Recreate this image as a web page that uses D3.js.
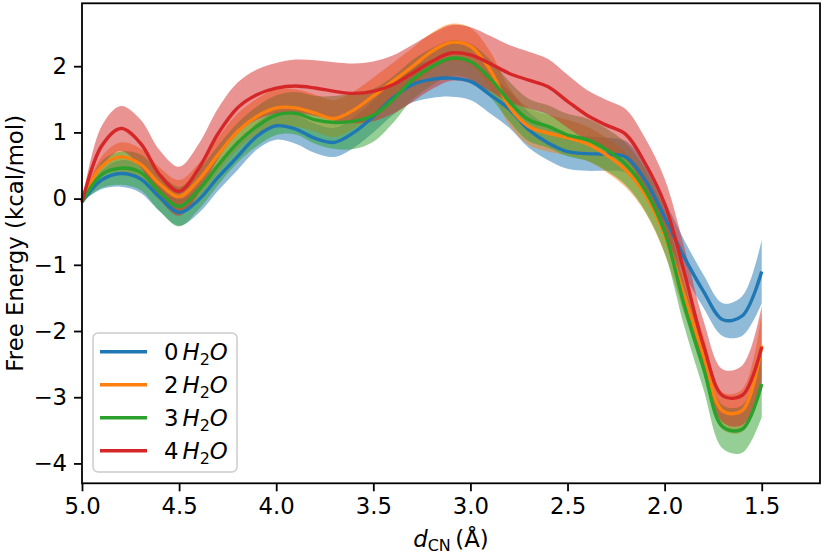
<!DOCTYPE html>
<meta charset="utf-8">
<style>

body {
  margin: 0;
  background: #fff;
}

text {
  font-family: "DejaVu Sans", sans-serif;
  fill: #000;
}

.band {
  fill-opacity: 0.5;
  stroke: none;
}

.line {
  fill: none;
  stroke-width: 3.4px;
  stroke-linejoin: round;
}

</style>
<svg width=825 height=557></svg>
<script src='https://d3js.org/d3.v7.min.js'></script>
<script>

const width = 825;
const height = 557;
const plotLeft = 82, plotRight = 820, plotTop = 3.3, plotBottom = 483.3;
const fontsize = 22.8;

// distance d_CN (Angstrom), sampled every 0.1
const distances = [5.0, 4.9, 4.8, 4.7, 4.6, 4.5, 4.4, 4.3, 4.2, 4.1, 4.0, 3.9, 3.8, 3.7, 3.6, 3.5, 3.4, 3.3,
                   3.2, 3.1, 3.0, 2.9, 2.8, 2.7, 2.6, 2.5, 2.4, 2.3, 2.2, 2.1, 2.0, 1.9, 1.8, 1.7, 1.6, 1.5];

// free energy (kcal/mol) and half width of the shaded band, one pair per water count
const energy0 = [-0.05, 0.28, 0.38, 0.30, 0.02, -0.21, -0.02, 0.32, 0.63, 0.94, 1.10, 1.05, 0.91, 0.85, 1.00, 1.24, 1.52, 1.72,
                 1.80, 1.82, 1.77, 1.57, 1.35, 1.04, 0.84, 0.71, 0.68, 0.67, 0.63, 0.28, -0.28, -0.88, -1.40, -1.83, -1.77, -1.10];
const spread0 = [0, 0.14, 0.20, 0.21, 0.21, 0.20, 0.20, 0.20, 0.20, 0.20, 0.21, 0.22, 0.22, 0.22, 0.23, 0.24, 0.26, 0.27,
                 0.28, 0.28, 0.28, 0.28, 0.28, 0.27, 0.26, 0.26, 0.26, 0.25, 0.24, 0.24, 0.25, 0.26, 0.25, 0.25, 0.30, 0.48];

const energy2 = [-0.05, 0.48, 0.63, 0.52, 0.22, 0.03, 0.28, 0.66, 1.01, 1.24, 1.37, 1.37, 1.29, 1.21, 1.34, 1.55, 1.77, 1.99,
                 2.22, 2.36, 2.30, 1.95, 1.39, 1.09, 0.99, 0.92, 0.83, 0.66, 0.43, 0.06, -0.55, -1.45, -2.36, -3.21, -3.20, -2.22];
const spread2 = [0, 0.15, 0.22, 0.24, 0.25, 0.25, 0.25, 0.26, 0.27, 0.27, 0.28, 0.28, 0.28, 0.28, 0.28, 0.28, 0.28, 0.28,
                 0.28, 0.28, 0.28, 0.28, 0.28, 0.28, 0.28, 0.27, 0.26, 0.26, 0.26, 0.27, 0.28, 0.28, 0.28, 0.28, 0.32, 0.50];

const energy3 = [-0.05, 0.36, 0.46, 0.40, 0.10, -0.12, 0.13, 0.50, 0.84, 1.09, 1.26, 1.29, 1.19, 1.15, 1.17, 1.26, 1.49, 1.79,
                 1.99, 2.12, 2.07, 1.82, 1.47, 1.19, 1.09, 0.96, 0.89, 0.74, 0.52, 0.13, -0.50, -1.60, -2.56, -3.45, -3.48, -2.80];
const spread3 = [0, 0.20, 0.25, 0.27, 0.29, 0.30, 0.30, 0.30, 0.30, 0.30, 0.30, 0.32, 0.36, 0.40, 0.42, 0.40, 0.35, 0.30,
                 0.28, 0.27, 0.27, 0.28, 0.30, 0.32, 0.32, 0.32, 0.32, 0.32, 0.32, 0.32, 0.32, 0.32, 0.32, 0.33, 0.36, 0.50];

const energy4 = [-0.05, 0.79, 1.06, 0.84, 0.36, 0.11, 0.45, 0.98, 1.37, 1.57, 1.67, 1.70, 1.67, 1.62, 1.59, 1.62, 1.72, 1.89,
                 2.07, 2.20, 2.17, 2.04, 1.89, 1.79, 1.69, 1.47, 1.26, 1.11, 0.97, 0.53, -0.08, -1.10, -2.22, -2.98, -2.97, -2.24];
const spread4 = [0, 0.30, 0.34, 0.36, 0.37, 0.37, 0.37, 0.38, 0.38, 0.38, 0.38, 0.40, 0.42, 0.44, 0.45, 0.45, 0.44, 0.43,
                 0.42, 0.42, 0.42, 0.42, 0.43, 0.43, 0.42, 0.40, 0.38, 0.38, 0.38, 0.38, 0.38, 0.38, 0.38, 0.40, 0.45, 0.62];

const waterCounts = ["0", "2", "3", "4"];
const colours = ["#1f77b4", "#ff7f0e", "#2ca02c", "#d62728"];

const xTicks = [5.0, 4.5, 4.0, 3.5, 3.0, 2.5, 2.0, 1.5];
const yTicks = [-4, -3, -2, -1, 0, 1, 2];

let series = [
  {water: waterCounts[0], colour: colours[0], mean: energy0, spread: spread0},
  {water: waterCounts[1], colour: colours[1], mean: energy2, spread: spread2},
  {water: waterCounts[2], colour: colours[2], mean: energy3, spread: spread3},
  {water: waterCounts[3], colour: colours[3], mean: energy4, spread: spread4}
];
series.forEach(s => {
  s.points = distances.map((d, i) => ({x: d, y: s.mean[i], lo: s.mean[i] - s.spread[i], hi: s.mean[i] + s.spread[i]}));
});

let svg = d3.select("svg");

let x = d3.scaleLinear().domain([5.0, 1.2]).range([plotLeft, plotRight]);
let y = d3.scaleLinear().domain([-4.3, 2.95]).range([plotBottom, plotTop]);

const smooth = d3.curveCatmullRom.alpha(0.5);

let area = d3.area()
  .curve(smooth)
  .x(d => x(d.x))
  .y0(d => y(d.lo))
  .y1(d => y(d.hi));

let line = d3.line()
  .curve(smooth)
  .x(d => x(d.x))
  .y(d => y(d.y));

// shaded bands first, lines over them
svg.append("g").selectAll(".band")
  .data(series)
  .enter().append("path")
  .attr("class", "band")
  .attr("fill", d => d.colour)
  .attr("d", d => area(d.points));

svg.append("g").selectAll(".line")
  .data(series)
  .enter().append("path")
  .attr("class", "line")
  .attr("stroke", d => d.colour)
  .attr("d", d => line(d.points));

// axes
let xAxis = svg.append("g")
  .attr("transform", "translate(0," + plotBottom + ")")
  .call(d3.axisBottom(x).tickValues(xTicks).tickFormat(d3.format(".1f"))
    .tickSize(8).tickSizeOuter(0).tickPadding(7));

let yAxis = svg.append("g")
  .attr("transform", "translate(" + plotLeft + ",0)")
  .call(d3.axisLeft(y).tickValues(yTicks).tickFormat(d3.format("d"))
    .tickSize(8).tickSizeOuter(0).tickPadding(7));

[xAxis, yAxis].forEach(a => {
  a.selectAll("text").attr("font-size", fontsize).style("font-family", "DejaVu Sans");
  a.selectAll("line").attr("stroke", "#000").attr("stroke-width", 1.8);
  a.select(".domain").remove();
});

svg.append("rect")
  .attr("x", plotLeft)
  .attr("y", plotTop)
  .attr("width", plotRight - plotLeft)
  .attr("height", plotBottom - plotTop)
  .attr("fill", "none")
  .attr("stroke", "#000")
  .attr("stroke-width", 1.8);

// axis labels
let xLabel = svg.append("text")
  .attr("x", (plotLeft + plotRight) / 2)
  .attr("y", 547)
  .attr("text-anchor", "middle")
  .attr("font-size", fontsize);
xLabel.append("tspan").attr("font-style", "italic").text("d");
xLabel.append("tspan").attr("font-size", fontsize * 0.7).attr("dy", 4).text("CN");
xLabel.append("tspan").attr("dy", -4).text("\u2009(Å)");

svg.append("text")
  .attr("transform", "translate(23," + ((plotTop + plotBottom) / 2) + ") rotate(-90)")
  .attr("text-anchor", "middle")
  .attr("font-size", fontsize)
  .text("Free Energy (kcal/mol)");

// legend
let legend = svg.append("g");
legend.append("rect")
  .attr("x", 93)
  .attr("y", 333)
  .attr("width", 144)
  .attr("height", 139)
  .attr("rx", 5)
  .attr("fill", "#fff")
  .attr("fill-opacity", 0.8)
  .attr("stroke", "#cccccc")
  .attr("stroke-width", 1.5);

let rows = legend.selectAll(".row")
  .data(series)
  .enter().append("g")
  .attr("class", "row")
  .attr("transform", (d, i) => "translate(0," + (351.7 + i * 33) + ")");

rows.append("line")
  .attr("x1", 100)
  .attr("x2", 147)
  .attr("stroke", d => d.colour)
  .attr("stroke-width", 3.4);

let labels = rows.append("text")
  .attr("x", 164)
  .attr("y", 8)
  .attr("font-size", fontsize);
labels.append("tspan").text(d => d.water);
labels.append("tspan").attr("dx", 4).attr("font-style", "italic").text("H");
labels.append("tspan").attr("font-size", fontsize * 0.7).attr("dy", 5).text("2");
labels.append("tspan").attr("dy", -5).attr("font-style", "italic").text("O");

</script>
